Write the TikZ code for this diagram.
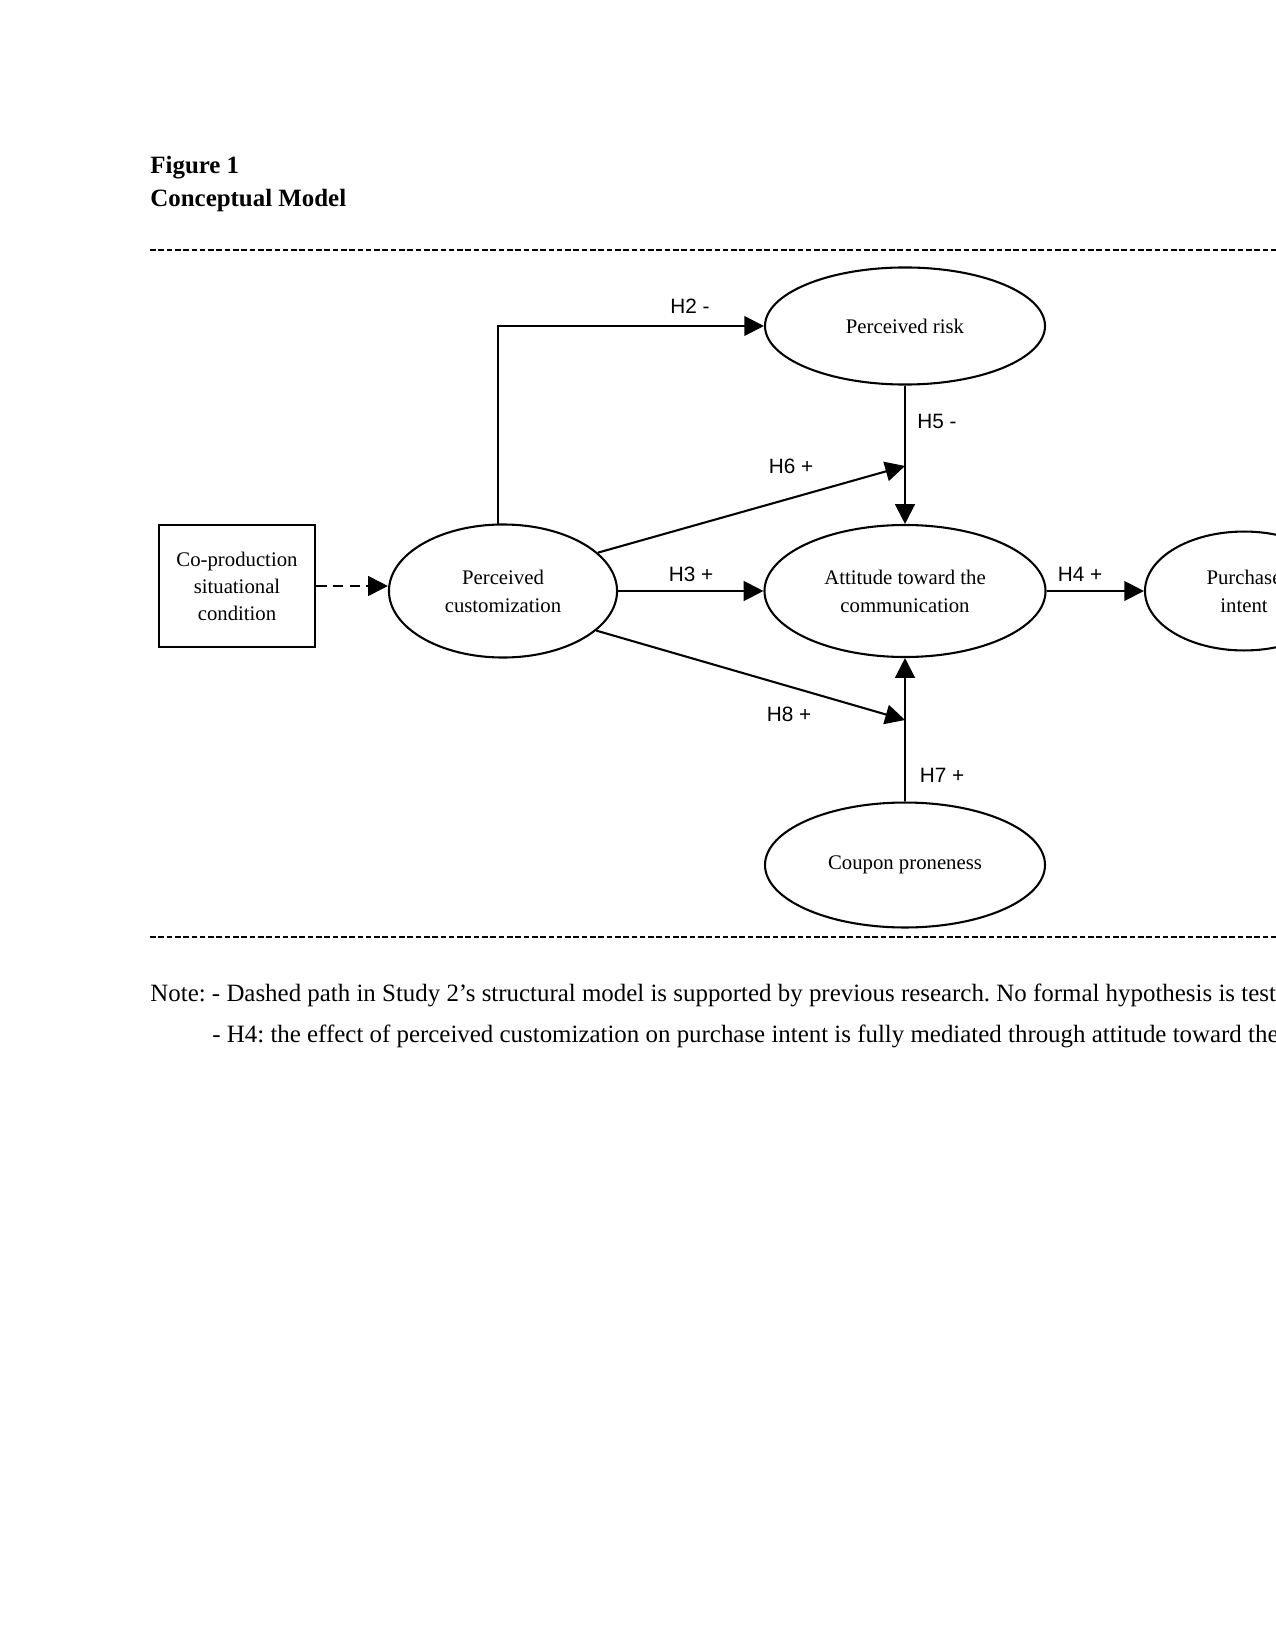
\documentclass[tikz,border=0pt]{standalone}
\usepackage{fontspec}
\setmainfont{Liberation Serif}
\newfontfamily\hypfont{Liberation Sans}
\usetikzlibrary{positioning,arrows.meta,shapes.geometric}
\frenchspacing

\begin{document}
\begin{tikzpicture}[x=0.4818pt,y=-0.4818pt,
      var/.style={draw,ellipse,line width=1pt,inner sep=0pt,align=center,font=\fontsize{10}{13.5}\selectfont},
      cond/.style={draw,rectangle,line width=1pt,inner sep=0pt,align=center,minimum width=75.6pt,minimum height=58.8pt,font=\fontsize{10}{13}\selectfont},
      arr/.style={-{Triangle[length=9.5pt,width=9.5pt]},line width=1pt},
      hyp/.style={font=\hypfont\fontsize{10}{12}\selectfont,inner sep=0pt},
      txt/.style={anchor=base west,inner sep=0pt,font=\fontsize{12}{14}\selectfont},
      rule/.style={line width=0.8pt,dash pattern=on 2.7pt off 1.3pt}]
    \useasboundingbox (0,0) rectangle (1275,1650);
    % title
    \node[txt,font=\bfseries\fontsize{12}{14}\selectfont] (fig) at (150,174) {Figure 1};
    \node[txt,font=\bfseries\fontsize{12}{14}\selectfont] (ttl) at (150,207) {Conceptual Model};
    \draw[rule] (150,250) -- (1300,250);
    % constructs
    \node[cond] (cop) at (237,586) {Co-production\\situational\\condition};
    \node[var,minimum width=109.9pt,minimum height=64.1pt] (pc) at (503,591) {Perceived\\customization};
    \node[var,minimum width=134.9pt,minimum height=56.4pt] (pr) at (905,326) {Perceived risk};
    \node[var,minimum width=135.4pt,minimum height=63.6pt] (att) at (905,591) {Attitude toward the\\communication};
    \node[var,minimum width=95.4pt,minimum height=57.3pt] (pi) at (1244,591) {Purchase\\intent};
    \node[var,minimum width=134.9pt,minimum height=60.2pt] (cp) at (905,865) {Coupon proneness};
    \coordinate (h6end) at (905,466);
    \coordinate (h8end) at (905,720);
    % paths
    \draw[arr,dash pattern=on 5pt off 3pt] (cop.east) -- (cop.east -| pc.west);
    \draw[arr] (pc.94) |- (pr.west);
    \draw[arr] (pr.south) -- (att.north);
    \draw[arr] (pc.22) -- (h6end);
    \draw[arr] (pc.east) -- (att.west);
    \draw[arr] (att.east) -- (pi.west);
    \draw[arr] (pc.-23) -- (h8end);
    \draw[arr] (cp.north) -- (att.south);
    % hypotheses
    \node[hyp] (l2) at (690,306) {H2 -};
    \node[hyp] (l5) at (937,421) {H5 -};
    \node[hyp] (l6) at (791,466) {H6 +};
    \node[hyp] (l3) at (691,574) {H3 +};
    \node[hyp] (l4) at (1080,574) {H4 +};
    \node[hyp] (l8) at (789,714) {H8 +};
    \node[hyp] (l7) at (942,775) {H7 +};
    % note
    \draw[rule] (150,937) -- (1300,937);
    \node[txt] (note1) at (150,1001) {Note: - Dashed path in Study 2’s structural model is supported by previous research. No formal hypothesis is tested.};
    \node[txt] (note2) at (212,1042) {- H4: the effect of perceived customization on purchase intent is fully mediated through attitude toward the communication.};
  \end{tikzpicture}
\end{document}
